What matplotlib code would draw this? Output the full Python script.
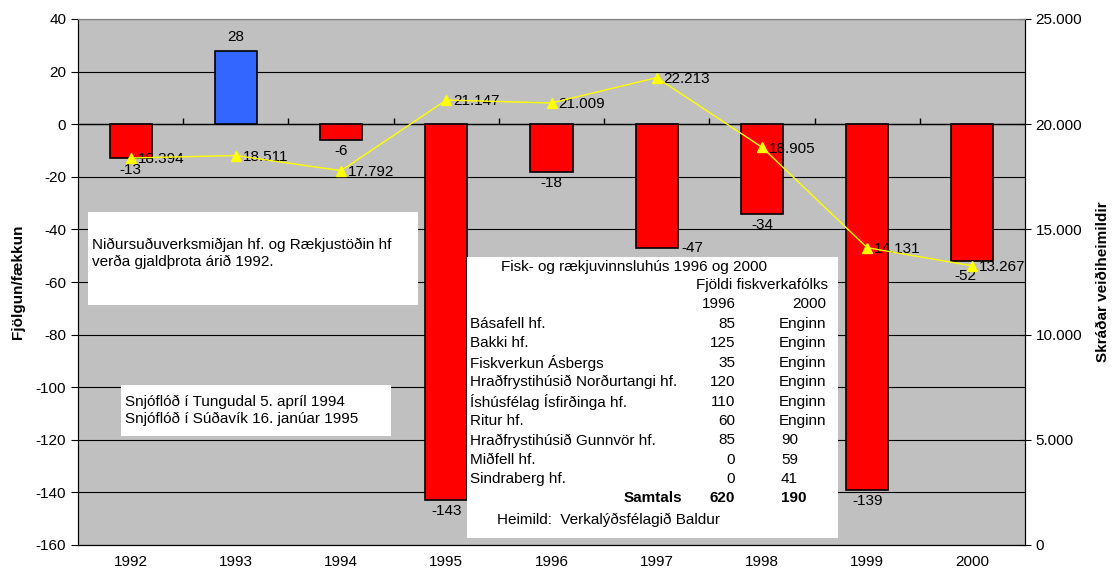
import matplotlib.pyplot as plt

plt.rcParams['font.family'] = ['Liberation Sans', 'DejaVu Sans']
plt.rcParams['axes.unicode_minus'] = False

# data
years = ['1992', '1993', '1994', '1995', '1996', '1997', '1998', '1999', '2000']
change = [-13, 28, -6, -143, -18, -47, -34, -139, -52]
quota = [18394, 18511, 17792, 21147, 21009, 22213, 18905, 14131, 13267]

companies = ['Básafell hf.', 'Bakki hf.', 'Fiskverkun Ásbergs', 'Hraðfrystihúsið Norðurtangi hf.',
             'Íshúsfélag Ísfirðinga hf.', 'Ritur hf.', 'Hraðfrystihúsið Gunnvör hf.',
             'Miðfell hf.', 'Sindraberg hf.']
workers_1996 = ['85', '125', '35', '120', '110', '60', '85', '0', '0']
workers_2000 = ['Enginn', 'Enginn', 'Enginn', 'Enginn', 'Enginn', 'Enginn', '90', '59', '41']
total_1996 = '620'
total_2000 = '190'

W, H = 1114, 574
fig = plt.figure(figsize=(W / 100, H / 100), dpi=100)
ax = fig.add_axes([78 / W, 1 - 545 / H, (1025 - 78) / W, (545 - 19) / H])
ax.set_facecolor('#C0C0C0')
ax2 = ax.twinx()

fs = 11
x = list(range(len(years)))
colors = ['#3366FF' if v > 0 else '#FF0000' for v in change]
ax.bar(x, change, width=0.4, color=colors, edgecolor='black', linewidth=1.2, zorder=3)

ax.set_xlim(-0.5, len(years) - 0.5)
ax.set_ylim(-160, 40)
ax.set_yticks(range(-160, 41, 20))
ax.yaxis.grid(True, color='black', linewidth=0.8, zorder=0)
ax.set_axisbelow(True)
ax.set_xticks(x)
ax.set_xticklabels(years, fontsize=fs)
ax.tick_params(axis='x', length=0, pad=7)
ax.tick_params(axis='y', labelsize=fs, direction='out', length=5)
ax.axhline(0, color='black', linewidth=1, zorder=2)
# category boundary ticks on the zero line
ax.vlines([i + 0.5 for i in x[:-1]], 0, 2.4, color='black', linewidth=1, zorder=2)
ax.set_ylabel('Fjölgun/fækkun', fontsize=fs, fontweight='bold', labelpad=8)

# bar labels
for i, v in enumerate(change):
    if v > 0:
        ax.annotate(str(v), (i, v), xytext=(0, 5), textcoords='offset points',
                    ha='center', va='bottom', fontsize=fs)
    elif years[i] == '1997':
        ax.annotate(str(v), (i, v), xytext=(18, 0), textcoords='offset points',
                    ha='left', va='center', fontsize=fs, zorder=6)
    elif years[i] == '2000':
        ax.annotate(str(v), (i, v), xytext=(-5, -6), textcoords='offset points',
                    ha='center', va='top', fontsize=fs, zorder=6)
    else:
        ax.annotate(str(v), (i, v), xytext=(0, -3), textcoords='offset points',
                    ha='center', va='top', fontsize=fs, zorder=6)

ax2.plot(x, quota, color='#FFFF00', linewidth=1, marker='^', markersize=7, zorder=4)
for i, v in enumerate(quota):
    ax2.annotate(f'{v:,}'.replace(',', '.'), (i, v), xytext=(5, -1), textcoords='offset points',
                 ha='left', va='center', fontsize=fs)
ax2.set_ylim(0, 25000)
ax2.set_yticks(range(0, 25001, 5000))
ax2.set_yticklabels([f'{t:,}'.replace(',', '.') for t in range(0, 25001, 5000)])
ax2.tick_params(axis='y', labelsize=fs, direction='inout', length=8)
ax2.set_ylabel('Skráðar veiðiheimildir', fontsize=fs, fontweight='bold', labelpad=10)

for a in (ax, ax2):
    for s in a.spines.values():
        s.set_color('black')
    a.spines['top'].set_color('#808080')


def fx(px):
    return px / W


def fy(py):
    return 1 - py / H


# text boxes
fig.patches.append(plt.Rectangle((fx(88), fy(305)), (418 - 88) / W, (305 - 212) / H,
                                 transform=fig.transFigure, facecolor='white', edgecolor='none', zorder=5))
fig.text(fx(92), fy(253), 'Niðursuðuverksmiðjan hf. og Rækjustöðin hf\nverða gjaldþrota árið 1992.',
         fontsize=fs, va='center', ha='left', linespacing=1.25, zorder=6)

fig.patches.append(plt.Rectangle((fx(121), fy(436)), (391 - 121) / W, (436 - 385) / H,
                                 transform=fig.transFigure, facecolor='white', edgecolor='none', zorder=5))
fig.text(fx(125), fy(410), 'Snjóflóð í Tungudal 5. apríl 1994\nSnjóflóð í Súðavík 16. janúar 1995',
         fontsize=fs, va='center', ha='left', linespacing=1.25, zorder=6)

fig.patches.append(plt.Rectangle((fx(467), fy(538)), (838 - 467) / W, (538 - 257) / H,
                                 transform=fig.transFigure, facecolor='white', edgecolor='none', zorder=5))
ts = 11
fig.text(fx(501), fy(267), 'Fisk- og rækjuvinnsluhús 1996 og 2000', fontsize=ts, va='center', zorder=6)
fig.text(fx(828), fy(285), 'Fjöldi fiskverkafólks', fontsize=ts, va='center', ha='right', zorder=6)
fig.text(fx(736), fy(304), '1996', fontsize=ts, va='center', ha='right', zorder=6)
fig.text(fx(826), fy(304), '2000', fontsize=ts, va='center', ha='right', zorder=6)
for k, name in enumerate(companies):
    yy = 324 + k * 19.4
    fig.text(fx(470), fy(yy), name, fontsize=ts, va='center', ha='left', zorder=6)
    fig.text(fx(735), fy(yy), workers_1996[k], fontsize=ts, va='center', ha='right', zorder=6)
    if workers_2000[k] == 'Enginn':
        fig.text(fx(826), fy(yy), workers_2000[k], fontsize=ts, va='center', ha='right', zorder=6)
    else:
        fig.text(fx(781), fy(yy), workers_2000[k], fontsize=ts, va='center', ha='left', zorder=6)
fig.text(fx(682), fy(498), 'Samtals', fontsize=ts, va='center', ha='right', fontweight='bold', zorder=6)
fig.text(fx(735), fy(498), total_1996, fontsize=ts, va='center', ha='right', fontweight='bold', zorder=6)
fig.text(fx(781), fy(498), total_2000, fontsize=ts, va='center', ha='left', fontweight='bold', zorder=6)
fig.text(fx(497), fy(520), 'Heimild:  Verkalýðsfélagið Baldur', fontsize=ts, va='center', ha='left', zorder=6)

fig.savefig('out.png', dpi=100)
